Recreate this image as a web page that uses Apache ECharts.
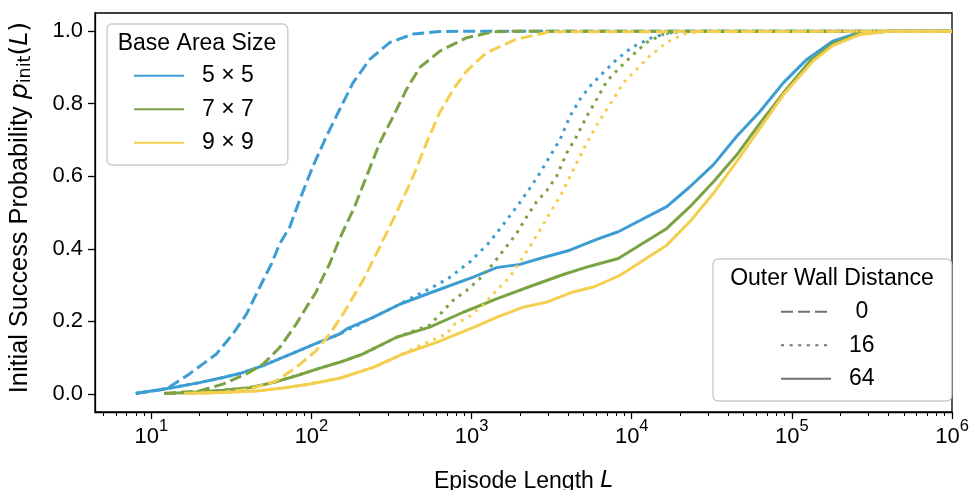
<!DOCTYPE html>
<html><head><meta charset="utf-8">
<script src="https://cdn.jsdelivr.net/npm/echarts@6/dist/echarts.min.js"></script>
<style>html,body{margin:0;padding:0;background:#fff}#c{width:969px;height:490px}</style>
</head><body><div id="c"></div>
<script>
// ---------- DATA ----------
const sizeNames = ['5 × 5', '7 × 7', '9 × 9'];
const distanceNames = [' 0', '16', '64'];
const xMajorTicks = [10, 100, 1000, 10000, 100000, 1000000];
const xMinorMultipliers = [2, 3, 4, 5, 6, 7, 8, 9];
const yTicks = [0, 0.2, 0.4, 0.6, 0.8, 1.0];

// 5x5, wall distance 0 (dashed)
const L_5_d0 = [8, 12.4, 17.3, 25.5, 32.4, 39.3, 47.5, 56.2, 63.4, 73.2, 84.5, 102, 124, 150, 182, 231, 309, 432, 631, 1000, 1000000];
const P_5_d0 = [0.002, 0.013, 0.055, 0.11, 0.166, 0.22, 0.294, 0.358, 0.414, 0.46, 0.535, 0.627, 0.71, 0.784, 0.858, 0.922, 0.969, 0.992, 0.999, 1, 1];
// 7x7, wall distance 0
const L_7_d0 = [12, 20, 28, 39.3, 49.9, 63.4, 80.5, 93, 107, 118, 130, 150, 186, 221, 267, 324, 392, 475, 634, 931, 1364, 2000, 1000000];
const P_7_d0 = [0.001, 0.008, 0.027, 0.055, 0.082, 0.128, 0.193, 0.239, 0.281, 0.322, 0.359, 0.428, 0.516, 0.6, 0.692, 0.765, 0.839, 0.9, 0.945, 0.982, 0.998, 1, 1];
// 9x9, wall distance 0
const L_9_d0 = [16, 28, 41, 60.5, 80.5, 107, 130, 158, 210, 267, 340, 432, 523, 631, 767, 931, 1241, 1910, 3080, 1000000];
const P_9_d0 = [0.001, 0.004, 0.013, 0.036, 0.073, 0.119, 0.165, 0.221, 0.313, 0.405, 0.5, 0.6, 0.692, 0.775, 0.839, 0.89, 0.941, 0.978, 0.998, 1];

// 5x5, wall distance 16 (dotted)
const L_5_d16 = [8, 10.7, 14.3, 20, 28, 35.6, 49.9, 73, 107, 150, 243, 356, 411, 548, 714, 977, 1300, 1655, 1954, 2312, 2673, 3083, 3565, 4111, 4753, 5483, 6650, 8054, 10000, 13000, 17330, 25000, 1000000];
const P_5_d16 = [0.001, 0.01, 0.019, 0.031, 0.045, 0.056, 0.078, 0.108, 0.139, 0.165, 0.211, 0.247, 0.262, 0.29, 0.318, 0.364, 0.419, 0.479, 0.521, 0.567, 0.609, 0.655, 0.701, 0.765, 0.812, 0.848, 0.886, 0.922, 0.955, 0.98, 0.996, 1, 1];
// 7x7, wall distance 16
const L_7_d16 = [12, 17.3, 28, 41, 57.5, 80.5, 113, 150, 210, 340, 548, 767, 931, 1127, 1364, 1615, 1910, 2206, 2547, 2944, 3397, 3926, 4529, 5234, 6040, 6982, 8450, 10240, 12400, 15780, 20000, 1000000];
const P_7_d16 = [0.001, 0.004, 0.01, 0.017, 0.031, 0.05, 0.071, 0.087, 0.11, 0.156, 0.19, 0.258, 0.285, 0.318, 0.359, 0.401, 0.442, 0.488, 0.53, 0.56, 0.6, 0.664, 0.71, 0.765, 0.812, 0.862, 0.9, 0.936, 0.969, 0.992, 1, 1];
// 9x9, wall distance 16
const L_9_d16 = [16, 28, 45.3, 66.5, 97.5, 150, 243, 374, 475, 698, 787, 953, 1075, 1183, 1300, 1432, 1578, 1734, 2004, 2306, 2673, 3080, 3565, 4018, 4750, 5105, 5754, 6650, 7674, 8870, 10740, 13000, 16557, 21000, 28000, 1000000];
const P_9_d16 = [0.001, 0.004, 0.008, 0.016, 0.027, 0.043, 0.073, 0.11, 0.133, 0.165, 0.193, 0.211, 0.23, 0.244, 0.265, 0.285, 0.304, 0.322, 0.364, 0.405, 0.452, 0.498, 0.544, 0.59, 0.655, 0.682, 0.724, 0.77, 0.812, 0.858, 0.895, 0.932, 0.969, 0.992, 1, 1];

// 5x5, wall distance 64 (solid)
const L_5_d64 = [8, 10.7, 14.3, 20, 28, 35.6, 49.9, 73, 107, 150, 166, 243, 356, 548, 1024, 1432, 2004, 2806, 4112, 6040, 8240, 16557, 23100, 32400, 45300, 63400, 88700, 124000, 180000, 262144, 400000, 1000000];
const P_5_d64 = [0.001, 0.01, 0.019, 0.031, 0.045, 0.056, 0.078, 0.108, 0.139, 0.165, 0.179, 0.211, 0.247, 0.278, 0.322, 0.348, 0.357, 0.376, 0.396, 0.426, 0.447, 0.516, 0.571, 0.632, 0.71, 0.779, 0.858, 0.922, 0.972, 0.996, 1, 1];
// 7x7, wall distance 64
const L_7_d64 = [12, 17.3, 28, 41, 57.5, 80.5, 113, 150, 210, 340, 548, 887, 1432, 2312, 3741, 5480, 8240, 16557, 23100, 32400, 45300, 63400, 88700, 130000, 180000, 262144, 400000, 1000000];
const P_7_d64 = [0.001, 0.004, 0.01, 0.017, 0.031, 0.05, 0.071, 0.087, 0.11, 0.156, 0.184, 0.225, 0.262, 0.296, 0.329, 0.352, 0.373, 0.456, 0.516, 0.585, 0.659, 0.747, 0.83, 0.918, 0.965, 0.993, 1, 1];
// 9x9, wall distance 64
const L_9_d64 = [16, 28, 45.3, 66.5, 97.5, 150, 243, 374, 604, 977, 1432, 2102, 2944, 4313, 5900, 8450, 16557, 23100, 32400, 45300, 63400, 88700, 136000, 180000, 262144, 400000, 1000000];
const P_9_d64 = [0.001, 0.004, 0.008, 0.016, 0.027, 0.043, 0.073, 0.11, 0.142, 0.179, 0.211, 0.239, 0.253, 0.281, 0.296, 0.327, 0.41, 0.475, 0.553, 0.641, 0.733, 0.825, 0.918, 0.96, 0.99, 1, 1];

// ---------- STYLE ----------
const FONT = 'Liberation Sans, Arial, sans-serif';
const MATH = 'DejaVu Sans, sans-serif';
const sizeColors = ['#3c9dd3', '#7ba344', '#f4cf4f'];
const legendGray = '#707070';
const LW = 3;
const dashTypes = { ' 0': [12, 5], '16': [3, 5.6], '64': 'solid' };

const pairs = (L, P) => L.map((x, i) => [x, P[i]]);
const table = {
  '5 × 5': { ' 0': pairs(L_5_d0, P_5_d0), '16': pairs(L_5_d16, P_5_d16), '64': pairs(L_5_d64, P_5_d64) },
  '7 × 7': { ' 0': pairs(L_7_d0, P_7_d0), '16': pairs(L_7_d16, P_7_d16), '64': pairs(L_7_d64, P_7_d64) },
  '9 × 9': { ' 0': pairs(L_9_d0, P_9_d0), '16': pairs(L_9_d16, P_9_d16), '64': pairs(L_9_d64, P_9_d64) }
};

const xMinorTicks = [5, 6, 7, 8, 9];
[10, 100, 1000, 10000, 100000].forEach(d => xMinorMultipliers.forEach(m => xMinorTicks.push(m * d)));

const series = [];
sizeNames.forEach((s, si) => {
  ['64', '16', ' 0'].forEach(d => {
    series.push({
      type: 'line', name: s, xAxisIndex: 0, yAxisIndex: 0,
      data: table[s][d], showSymbol: false, symbol: 'none', smooth: false,
      color: sizeColors[si],
      lineStyle: { color: sizeColors[si], width: LW, type: dashTypes[d], cap: 'butt', join: 'round' },
      animation: false, silent: true
    });
  });
});
distanceNames.forEach(d => {
  series.push({
    type: 'line', name: d, data: [], symbol: 'none', showSymbol: false, color: legendGray,
    lineStyle: { color: legendGray, width: LW, type: dashTypes[d], cap: 'butt' }, animation: false
  });
});

const legendBase = {
  orient: 'vertical', itemWidth: 50, itemHeight: 14, itemGap: 9.5,
  backgroundColor: '#fff', borderColor: '#cccccc', borderWidth: 1.4, borderRadius: 5,
  itemStyle: { color: 'rgba(0,0,0,0)', borderWidth: 0, opacity: 0 },
  textStyle: { fontSize: 23, color: '#000', fontFamily: FONT, lineHeight: 24, padding: [0, 0, 0, 13] },
  selectedMode: false, z: 10
};

const chart = echarts.init(document.getElementById('c'), null, { renderer: 'canvas' });
chart.setOption({
  animation: false,
  backgroundColor: '#fff',
  textStyle: { fontFamily: FONT },
  grid: { left: 95, right: 17, top: 13, bottom: 78, show: true, borderColor: '#000', borderWidth: 1.3, backgroundColor: 'transparent', containLabel: false, outerBoundsMode: 'none' },
  xAxis: [{
    type: 'log', logBase: 10, min: 4.45, max: 1000000, position: 'bottom',
    axisLine: { show: true, onZero: false, lineStyle: { color: '#000', width: 1.3 } },
    axisTick: { show: true, inside: false, length: 7, lineStyle: { color: '#000', width: 1.3 }, customValues: xMajorTicks },
    axisLabel: {
      show: true, customValues: xMajorTicks, margin: 14,
      formatter: v => '{b|10}{sup|' + Math.round(Math.log10(v)) + '}',
      rich: {
        b: { fontSize: 22, color: '#000', fontFamily: FONT, lineHeight: 22 },
        sup: { fontSize: 16.5, color: '#000', fontFamily: FONT, lineHeight: 16, padding: [0, 0, 22, 0] }
      }
    },
    splitLine: { show: false }, minorTick: { show: false },
    name: 'Episode Length {it|L}', nameLocation: 'middle', nameGap: 58,
    nameTextStyle: { fontSize: 23, color: '#000', fontFamily: FONT, rich: { it: { fontSize: 23, fontStyle: 'italic', fontFamily: MATH, color: '#000' } } }
  }, {
    type: 'log', logBase: 10, min: 4.45, max: 1000000, position: 'bottom', gridIndex: 0,
    axisLine: { show: false, onZero: false },
    axisTick: { show: true, inside: false, length: 4, lineStyle: { color: '#000', width: 1 }, customValues: xMinorTicks },
    axisLabel: { show: false }, splitLine: { show: false }
  }],
  yAxis: [{
    type: 'value', min: -0.05, max: 1.05,
    axisLine: { show: true, onZero: false, lineStyle: { color: '#000', width: 1.3 } },
    axisTick: { show: true, inside: false, length: 7, lineStyle: { color: '#000', width: 1.3 }, customValues: yTicks },
    axisLabel: { customValues: yTicks, formatter: v => v.toFixed(1), fontSize: 22, color: '#000', fontFamily: FONT, margin: 12 },
    splitLine: { show: false },
    name: 'Initial Success Probability {it|p}{sub|init}{m|(}{it|L}{m|)}', nameLocation: 'middle', nameGap: 61, nameRotate: 90,
    nameTextStyle: {
      fontSize: 25.3, color: '#000', fontFamily: FONT, lineHeight: 28, padding: [0, 0, 0, 10],
      rich: {
        it: { fontSize: 25.3, fontStyle: 'italic', fontFamily: MATH, color: '#000', lineHeight: 28 },
        m: { fontSize: 25.3, fontFamily: MATH, color: '#000', lineHeight: 28 },
        sub: { fontSize: 17.5, fontFamily: MATH, color: '#000', lineHeight: 15, verticalAlign: 'bottom' }
      }
    }
  }],
  legend: [
    Object.assign({}, legendBase, { data: sizeNames, left: 107, top: 24, padding: [39.7, 34, 10.3, 26] }),
    Object.assign({}, legendBase, { data: distanceNames, left: 713, top: 259, padding: [40.7, 77, 10.3, 67] })
  ],
  graphic: [
    { type: 'text', x: 197, y: 44, z: 100, style: { text: 'Base Area Size', font: '23px ' + FONT, fill: '#000', align: 'center', verticalAlign: 'middle' } },
    { type: 'text', x: 832, y: 279, z: 100, style: { text: 'Outer Wall Distance', font: '23px ' + FONT, fill: '#000', align: 'center', verticalAlign: 'middle' } }
  ],
  series: series
});
</script>
</body></html>
